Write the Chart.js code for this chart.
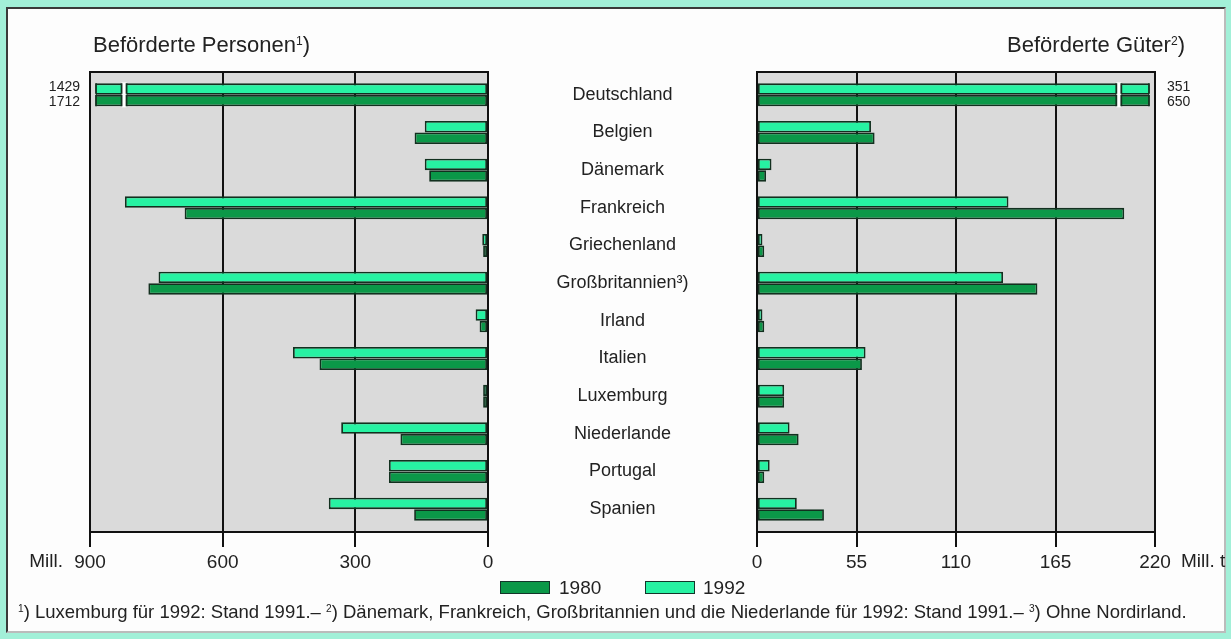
<!DOCTYPE html>
<html lang="de">
<head>
<meta charset="utf-8">
<title>Beförderte Personen und Güter</title>
<script src="https://cdn.jsdelivr.net/npm/chart.js@4/dist/chart.umd.min.js"></script>
<style>
  body { margin: 0; width: 1231px; height: 639px; background: #a2f0d8; overflow: hidden;
         font-family: "Liberation Sans", Arial, Helvetica, sans-serif; color: #222; }
  #panel { position: absolute; left: 6px; top: 7px; width: 1220px; height: 626px; box-sizing: border-box;
           background: #fdfdfd; border: 2px solid #3a3a3a; border-right-color: #bbb; border-bottom-color: #bbb; }
  .box { position: absolute; left: 0; top: 0; }
  .txt { position: absolute; white-space: nowrap; }
  .title { font-size: 22px; line-height: 22px; top: 34px; }
  .title sup, .foot sup { font-size: 55%; vertical-align: 0; position: relative; top: -0.6em; }
  .unit { font-size: 19px; line-height: 19px; top: 551px; }
  .leg { top: 578px; font-size: 19px; line-height: 19px; }
  .swatch { position: absolute; top: 581px; width: 50px; height: 13px; box-sizing: border-box; border: 1.5px solid #14352a; }
  .foot { left: 18px; top: 603px; font-size: 18.5px; line-height: 18px; }
</style>
</head>
<body>
<div id="panel"></div>
<canvas id="leftChart" class="box" width="500" height="639"></canvas>
<canvas id="rightChart" class="box" style="left:488px" width="743" height="639"></canvas>

<div class="txt title" style="left:93px">Beförderte Personen<sup>1</sup>)</div>
<div class="txt title" style="right:46px">Beförderte Güter<sup>2</sup>)</div>
<div class="txt unit" style="right:1168px">Mill.</div>
<div class="txt unit" style="left:1181px">Mill. t</div>

<div class="swatch" style="left:500px; background:#0b9848"></div>
<div class="txt leg" style="left:559px">1980</div>
<div class="swatch" style="left:645px; background:#27f2a2"></div>
<div class="txt leg" style="left:703px">1992</div>

<div class="txt foot"><sup>1</sup>) Luxemburg für 1992: Stand 1991.– <sup>2</sup>) Dänemark, Frankreich, Großbritannien und die Niederlande für 1992: Stand 1991.– <sup>3</sup>) Ohne Nordirland.</div>

<script>
const categories = ['Deutschland', 'Belgien', 'Dänemark', 'Frankreich', 'Griechenland', 'Großbritannien³)',
                    'Irland', 'Italien', 'Luxemburg', 'Niederlande', 'Portugal', 'Spanien'];

// Beförderte Personen, Mill.
const persons1992 = [1429, 143, 143, 821, 13, 745, 28, 441, 11, 332, 224, 360];
const persons1980 = [1712, 166, 133, 686, 11, 768, 19, 381, 11, 198, 224, 167];

// Beförderte Güter, Mill. t
const goods1992 = [351, 63, 8, 139, 3, 136, 3, 60, 15, 18, 7, 22];
const goods1980 = [650, 65, 5, 203, 4, 155, 4, 58, 15, 23, 4, 37];

const personTicks = [0, 300, 600, 900];
const goodsTicks = [0, 55, 110, 165, 220];

const light = '#27f2a2';
const dark = '#0b9848';
const edge = '#12301f';
const plotGray = '#dadada';
const font = '"Liberation Sans", Arial, Helvetica, sans-serif';
const rim = 4; // frame sits a little outside the category bands

// grey plot area with a black frame
const plotFrame = {
    id: 'plotFrame',
    beforeDraw(chart) {
        const { ctx, chartArea: a } = chart;
        ctx.save();
        ctx.fillStyle = plotGray;
        ctx.fillRect(a.left, a.top - rim, a.width, a.height + 2 * rim);
        ctx.restore();
    },
    afterDatasetsDraw(chart) {
        const { ctx, chartArea: a } = chart;
        const xs = chart.scales.x;
        ctx.save();
        ctx.strokeStyle = '#111';
        ctx.lineWidth = 2;
        ctx.beginPath();
        xs.ticks.forEach((t, i) => {
            const x = Math.round(xs.getPixelForTick(i));
            ctx.moveTo(x, a.top - rim);
            ctx.lineTo(x, a.top + 1);
        });
        ctx.stroke();
        ctx.strokeRect(a.left, a.top - rim, a.width, a.height + 2 * rim);
        ctx.restore();
    }
};

// bars longer than the axis get a white break and their value written beside the plot
const axisBreak = {
    id: 'axisBreak',
    afterDatasetsDraw(chart, args, opts) {
        const { ctx, chartArea: a } = chart;
        const xs = chart.scales.x;
        const dir = xs.options.reverse ? -1 : 1;
        const endX = dir > 0 ? a.right : a.left;
        const bx = xs.getPixelForValue(opts.at);
        ctx.save();
        chart.data.datasets.forEach((ds, di) => {
            chart.getDatasetMeta(di).data.forEach((bar, i) => {
                const v = ds.data[i];
                if (v <= xs.max) return;
                const top = bar.y - bar.height / 2;
                const h = bar.height;
                ctx.fillStyle = '#fff';
                ctx.fillRect(bx - 2.5, top - 1, 5, h + 2);
                ctx.fillStyle = plotGray;
                ctx.fillRect(dir > 0 ? endX - 6 : endX + 1, top - 1, 5, h + 2);
                ctx.strokeStyle = edge;
                ctx.lineWidth = 1.8;
                ctx.beginPath();
                [bx - 2.5, bx + 2.5, endX - dir * 6].forEach(x => {
                    ctx.moveTo(x, top);
                    ctx.lineTo(x, top + h);
                });
                ctx.stroke();
                ctx.fillStyle = '#222';
                ctx.font = '14px ' + font;
                ctx.textBaseline = 'middle';
                ctx.textAlign = dir > 0 ? 'left' : 'right';
                const tx = dir > 0 ? a.right + 12 : a.left - 10;
                ctx.fillText(String(v), tx, bar.y + (di === 0 ? -1.5 : 1.5));
            });
        });
        ctx.restore();
    }
};

function xScale(max, ticks, reverse) {
    return {
        reverse: reverse,
        min: 0,
        max: max,
        afterBuildTicks: s => { s.ticks = ticks.map(v => ({ value: v })); },
        afterFit: s => { s.height = 48; },
        grid: { color: '#111', lineWidth: 2, drawTicks: true, tickLength: 15 + rim, tickColor: '#111', tickWidth: 2 },
        border: { display: false },
        ticks: { color: '#222', padding: 4, maxRotation: 0, font: { family: font, size: 19 } }
    };
}

function barSet(label, data, color) {
    return {
        label: label,
        data: data,
        backgroundColor: color,
        borderColor: edge,
        borderWidth: 1.8,
        borderSkipped: false
    };
}

const common = {
    indexAxis: 'y',
    responsive: false,
    animation: false,
    datasets: { bar: { categoryPercentage: 0.61, barPercentage: 1.0 } },
    plugins: { legend: { display: false }, tooltip: { enabled: false } }
};
const pad = { top: 72 + rim, bottom: 59 + rim };

// left chart: persons, axis running right to left
new Chart(document.getElementById('leftChart'), {
    type: 'bar',
    data: {
        labels: categories,
        datasets: [barSet('1992', persons1992, light), barSet('1980', persons1980, dark)]
    },
    options: {
        ...common,
        layout: { padding: { left: 90, right: 12, ...pad } },
        scales: {
            x: xScale(900, personTicks, true),
            y: { display: false }
        },
        plugins: { ...common.plugins, axisBreak: { at: 823 } }
    },
    plugins: [plotFrame, axisBreak]
});

// category names sit centred between the two plots
const meas = document.createElement('canvas').getContext('2d');
meas.font = '18px ' + font;
const widest = Math.max(...categories.map(c => meas.measureText(c).width));
const gapWidth = 269;

new Chart(document.getElementById('rightChart'), {
    type: 'bar',
    data: {
        labels: categories,
        datasets: [barSet('1992', goods1992, light), barSet('1980', goods1980, dark)]
    },
    options: {
        ...common,
        layout: { padding: { left: 0, right: 76, ...pad } },
        scales: {
            x: xScale(220, goodsTicks, false),
            y: {
                afterFit: s => { s.width = gapWidth; s.paddingTop = 0; s.paddingBottom = 0; },
                grid: { display: false, drawTicks: true, tickLength: gapWidth / 2 - widest / 2 },
                border: { display: false },
                ticks: { color: '#222', crossAlign: 'center', padding: 0, font: { family: font, size: 18 } }
            }
        },
        plugins: { ...common.plugins, axisBreak: { at: 200 } }
    },
    plugins: [plotFrame, axisBreak]
});
</script>
</body>
</html>
